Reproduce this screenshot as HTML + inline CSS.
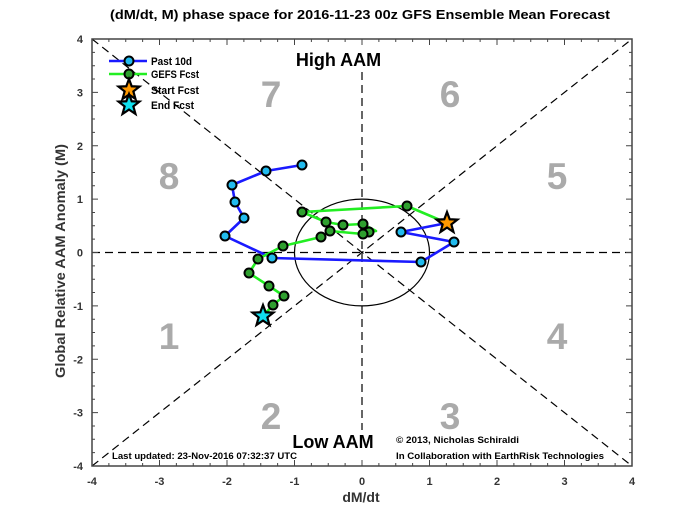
<!DOCTYPE html>
<html>
<head>
<meta charset="utf-8">
<style>
html,body{margin:0;padding:0;background:#fff;}
svg{display:block;}
text{font-family:"Liberation Sans",Arial,sans-serif;font-weight:bold;}
</style>
</head>
<body>
<svg width="700" height="525" viewBox="0 0 700 525" xmlns="http://www.w3.org/2000/svg">
<rect x="0" y="0" width="700" height="525" fill="#fff"/>

<!-- title -->
<text x="360" y="19" font-size="13" text-anchor="middle" textLength="500" lengthAdjust="spacingAndGlyphs">(dM/dt, M) phase space for 2016-11-23 00z GFS Ensemble Mean Forecast</text>

<!-- dashed reference lines -->
<g stroke="#000" stroke-width="1.2" stroke-dasharray="8,5" fill="none">
<line x1="92" y1="39" x2="632" y2="466"/>
<line x1="92" y1="466" x2="632" y2="39"/>
<line x1="92" y1="252.5" x2="632" y2="252.5"/>
<line x1="362" y1="72" x2="362" y2="430"/>
</g>
<ellipse cx="362" cy="252.5" rx="67.5" ry="53.4" fill="none" stroke="#000" stroke-width="1.2"/>

<!-- phase numbers -->
<g font-size="37" fill="#aaaaaa" text-anchor="middle">
<text x="271" y="107">7</text>
<text x="450" y="107">6</text>
<text x="169" y="189">8</text>
<text x="557" y="189">5</text>
<text x="169" y="349">1</text>
<text x="557" y="349">4</text>
<text x="271" y="429">2</text>
<text x="450" y="429">3</text>
</g>

<text x="338.5" y="66" font-size="18" text-anchor="middle">High AAM</text>
<text x="333" y="448" font-size="18" text-anchor="middle">Low AAM</text>

<text x="396" y="443" font-size="9.5" textLength="123" lengthAdjust="spacingAndGlyphs">© 2013, Nicholas Schiraldi</text>
<text x="396" y="459" font-size="9.5" textLength="208" lengthAdjust="spacingAndGlyphs">In Collaboration with EarthRisk Technologies</text>
<text x="112" y="459" font-size="9.5" textLength="185" lengthAdjust="spacingAndGlyphs">Last updated: 23-Nov-2016 07:32:37 UTC</text>

<!-- star definition -->
<defs>
<path id="star" d="M0,-11 L2.7,-3.72 L10.46,-3.4 L4.37,1.42 L6.47,8.9 L0,4.6 L-6.47,8.9 L-4.37,1.42 L-10.46,-3.4 L-2.7,-3.72 Z"/>
</defs>

<!-- blue past 10d -->
<polyline fill="none" stroke="#1a1aff" stroke-width="2.6" stroke-linejoin="round"
 points="302,165 266,171 232,185 235,202 244,218 225,236 272,258 421,262 454,242 401,232 447,223"/>
<!-- green forecast -->
<polyline fill="none" stroke="#22ee22" stroke-width="2.6" stroke-linejoin="round"
 points="447,223 407,206 302,212 326,222 343,225 363,224 376,231 369,232 363,234 330,231 321,237 283,246 258,259 249,273 269,286 284,296 273,305 263,316"/>

<g fill="#22bbee" stroke="#000" stroke-width="2">
<circle cx="302" cy="165" r="4.5"/>
<circle cx="266" cy="171" r="4.5"/>
<circle cx="232" cy="185" r="4.5"/>
<circle cx="235" cy="202" r="4.5"/>
<circle cx="244" cy="218" r="4.5"/>
<circle cx="225" cy="236" r="4.5"/>
<circle cx="272" cy="258" r="4.5"/>
<circle cx="421" cy="262" r="4.5"/>
<circle cx="454" cy="242" r="4.5"/>
<circle cx="401" cy="232" r="4.5"/>
</g>
<g fill="#2f9f2f" stroke="#000" stroke-width="2">
<circle cx="407" cy="206" r="4.5"/>
<circle cx="302" cy="212" r="4.5"/>
<circle cx="326" cy="222" r="4.5"/>
<circle cx="343" cy="225" r="4.5"/>
<circle cx="363" cy="224" r="4.5"/>
<circle cx="369" cy="232" r="4.5"/>
<circle cx="363" cy="234" r="4.5"/>
<circle cx="330" cy="231" r="4.5"/>
<circle cx="321" cy="237" r="4.5"/>
<circle cx="283" cy="246" r="4.5"/>
<circle cx="258" cy="259" r="4.5"/>
<circle cx="249" cy="273" r="4.5"/>
<circle cx="269" cy="286" r="4.5"/>
<circle cx="284" cy="296" r="4.5"/>
<circle cx="273" cy="305" r="4.5"/>
</g>
<use href="#star" x="447" y="223" fill="#ff9900" stroke="#000" stroke-width="2.2"/>
<use href="#star" x="263" y="316" fill="#11e0ee" stroke="#000" stroke-width="2.2"/>

<!-- legend -->
<line x1="109" y1="61" x2="147" y2="61" stroke="#1a1aff" stroke-width="2.6"/>
<circle cx="129" cy="61" r="4.5" fill="#22bbee" stroke="#000" stroke-width="2"/>
<line x1="109" y1="74" x2="147" y2="74" stroke="#22ee22" stroke-width="2.6"/>
<circle cx="129" cy="74" r="4.5" fill="#2f9f2f" stroke="#000" stroke-width="2"/>
<use href="#star" x="129" y="90" fill="#ff9900" stroke="#000" stroke-width="2.2"/>
<use href="#star" x="129" y="105" fill="#11e0ee" stroke="#000" stroke-width="2.2"/>
<g font-size="11">
<text x="151" y="65" textLength="41" lengthAdjust="spacingAndGlyphs">Past 10d</text>
<text x="151" y="78" textLength="48" lengthAdjust="spacingAndGlyphs">GEFS Fcst</text>
<text x="151" y="94" textLength="48" lengthAdjust="spacingAndGlyphs">Start Fcst</text>
<text x="151" y="109" textLength="43" lengthAdjust="spacingAndGlyphs">End Fcst</text>
</g>

<!-- axes frame -->
<rect x="92" y="39" width="540" height="427" fill="none" stroke="#444" stroke-width="1.5"/>

<!-- ticks -->
<g stroke="#444" stroke-width="1">
<path d="M92,466v-6 M108.875,466v-3 M125.75,466v-3 M142.625,466v-3 M159.5,466v-6 M176.375,466v-3 M193.25,466v-3 M210.125,466v-3 M227,466v-6 M243.875,466v-3 M260.75,466v-3 M277.625,466v-3 M294.5,466v-6 M311.375,466v-3 M328.25,466v-3 M345.125,466v-3 M362,466v-6 M378.875,466v-3 M395.75,466v-3 M412.625,466v-3 M429.5,466v-6 M446.375,466v-3 M463.25,466v-3 M480.125,466v-3 M497,466v-6 M513.875,466v-3 M530.75,466v-3 M547.625,466v-3 M564.5,466v-6 M581.375,466v-3 M598.25,466v-3 M615.125,466v-3 M632,466v-6"/>
<path d="M92,39v6 M108.875,39v3 M125.75,39v3 M142.625,39v3 M159.5,39v6 M176.375,39v3 M193.25,39v3 M210.125,39v3 M227,39v6 M243.875,39v3 M260.75,39v3 M277.625,39v3 M294.5,39v6 M311.375,39v3 M328.25,39v3 M345.125,39v3 M362,39v6 M378.875,39v3 M395.75,39v3 M412.625,39v3 M429.5,39v6 M446.375,39v3 M463.25,39v3 M480.125,39v3 M497,39v6 M513.875,39v3 M530.75,39v3 M547.625,39v3 M564.5,39v6 M581.375,39v3 M598.25,39v3 M615.125,39v3 M632,39v6"/>
<path d="M92,39h6 M92,52.34h3 M92,65.69h3 M92,79.03h3 M92,92.375h6 M92,105.72h3 M92,119.06h3 M92,132.41h3 M92,145.75h6 M92,159.09h3 M92,172.44h3 M92,185.78h3 M92,199.125h6 M92,212.47h3 M92,225.81h3 M92,239.16h3 M92,252.5h6 M92,265.84h3 M92,279.19h3 M92,292.53h3 M92,305.875h6 M92,319.22h3 M92,332.56h3 M92,345.91h3 M92,359.25h6 M92,372.59h3 M92,385.94h3 M92,399.28h3 M92,412.625h6 M92,425.97h3 M92,439.31h3 M92,452.66h3 M92,466h6"/>
<path d="M632,39h-6 M632,52.34h-3 M632,65.69h-3 M632,79.03h-3 M632,92.375h-6 M632,105.72h-3 M632,119.06h-3 M632,132.41h-3 M632,145.75h-6 M632,159.09h-3 M632,172.44h-3 M632,185.78h-3 M632,199.125h-6 M632,212.47h-3 M632,225.81h-3 M632,239.16h-3 M632,252.5h-6 M632,265.84h-3 M632,279.19h-3 M632,292.53h-3 M632,305.875h-6 M632,319.22h-3 M632,332.56h-3 M632,345.91h-3 M632,359.25h-6 M632,372.59h-3 M632,385.94h-3 M632,399.28h-3 M632,412.625h-6 M632,425.97h-3 M632,439.31h-3 M632,452.66h-3 M632,466h-6"/>
</g>

<!-- tick labels -->
<g font-size="11" fill="#333" text-anchor="middle">
<text x="92" y="485">-4</text>
<text x="159.5" y="485">-3</text>
<text x="227" y="485">-2</text>
<text x="294.5" y="485">-1</text>
<text x="362" y="485">0</text>
<text x="429.5" y="485">1</text>
<text x="497" y="485">2</text>
<text x="564.5" y="485">3</text>
<text x="632" y="485">4</text>
</g>
<g font-size="11" fill="#333" text-anchor="end">
<text x="83" y="43">4</text>
<text x="83" y="96.4">3</text>
<text x="83" y="149.8">2</text>
<text x="83" y="203.1">1</text>
<text x="83" y="256.5">0</text>
<text x="83" y="309.9">-1</text>
<text x="83" y="363.3">-2</text>
<text x="83" y="416.6">-3</text>
<text x="83" y="470">-4</text>
</g>

<text x="361" y="502" font-size="14" fill="#333" text-anchor="middle">dM/dt</text>
<text transform="translate(65,261) rotate(-90)" font-size="14" fill="#333" text-anchor="middle" textLength="234" lengthAdjust="spacingAndGlyphs">Global Relative AAM Anomaly (M)</text>
</svg>
</body>
</html>
